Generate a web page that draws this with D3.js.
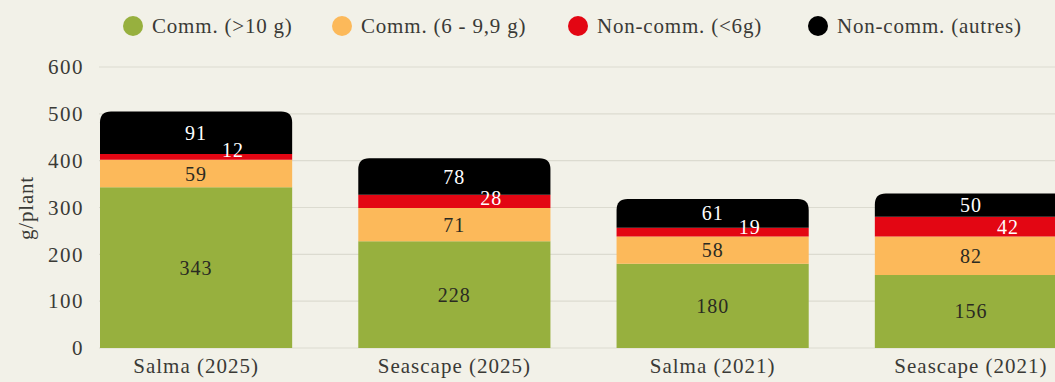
<!DOCTYPE html>
<html>
<head>
<meta charset="utf-8">
<script src="https://cdn.jsdelivr.net/npm/d3@7"></script>
<style>
  html, body { margin: 0; padding: 0; background: #f2f1e8; overflow: hidden; }
  svg { display: block; }
  text { font-family: "Liberation Serif", "DejaVu Serif", serif; }
</style>
</head>
<body>
<svg id="chart" width="1055" height="382"></svg>
<script>
// Yield per plant by size class
const categories = ["Salma (2025)", "Seascape (2025)", "Salma (2021)", "Seascape (2021)"];
const seriesNames = ["Comm. (>10 g)", "Comm. (6 - 9,9 g)", "Non-comm. (<6g)", "Non-comm. (autres)"];
const commLarge = [343, 228, 180, 156];
const commMedium = [59, 71, 58, 82];
const nonCommSmall = [12, 28, 19, 42];
const nonCommOther = [91, 78, 61, 50];
const yTicks = [0, 100, 200, 300, 400, 500, 600];
const colors = ["#97b03e", "#fcb95a", "#e30613", "#000000"];
const labelColors = ["#2a2a22", "#2a2a22", "#ffffff", "#ffffff"];

const seriesValues = [commLarge, commMedium, nonCommSmall, nonCommOther];
const rows = categories.map((c, i) => {
  const r = { cat: c };
  seriesNames.forEach((s, k) => r[s] = seriesValues[k][i]);
  return r;
});

const svg = d3.select("#chart");
const W = 1055, H = 382;
const plot = { left: 99, top: 67, bottom: 348 };
const textColor = "#3a3a36";

const y = d3.scaleLinear().domain([0, 600]).range([plot.bottom, plot.top]);
const x = d3.scaleBand().domain(categories).range([100, 1067]).paddingInner(0.256).paddingOuter(0);

// grid lines
svg.append("g")
  .selectAll("line")
  .data(yTicks)
  .join("line")
  .attr("x1", plot.left).attr("x2", W)
  .attr("y1", d => y(d)).attr("y2", d => y(d))
  .attr("stroke", "#dcdbd0").attr("stroke-width", 1.2);

// y axis tick labels
const yAxis = d3.axisLeft(y).tickValues(yTicks).tickSize(0).tickPadding(0);
const gy = svg.append("g").attr("transform", "translate(84,0)").call(yAxis);
gy.select(".domain").remove();
gy.selectAll("text")
  .attr("font-size", 21).attr("fill", textColor)
  .attr("letter-spacing", 1.5)
  .attr("font-family", "Liberation Serif, serif");

// y axis title
svg.append("text")
  .attr("transform", `translate(33,208) rotate(-90)`)
  .attr("text-anchor", "middle")
  .attr("font-size", 21).attr("fill", textColor)
  .attr("letter-spacing", 0.8)
  .text("g/plant");

// x axis labels
const xAxis = d3.axisBottom(x).tickSize(0).tickPadding(0);
const gx = svg.append("g").attr("transform", `translate(0,${plot.bottom + 10})`).call(xAxis);
gx.select(".domain").remove();
gx.selectAll("text")
  .attr("font-size", 21).attr("fill", textColor)
  .attr("letter-spacing", 1)
  .attr("font-family", "Liberation Serif, serif");

// stacked bars
const stack = d3.stack().keys(seriesNames);
const stacked = stack(rows);
const r = 11;
const bw = x.bandwidth();

stacked.forEach((layer, k) => {
  const isTop = k === stacked.length - 1;
  svg.append("g")
    .selectAll("path")
    .data(layer)
    .join("path")
    .attr("fill", colors[k])
    .attr("d", d => {
      const x0 = x(d.data.cat), x1 = x0 + bw;
      const y0 = y(d[0]), y1 = y(d[1]);
      if (!isTop) return `M${x0},${y0}V${y1}H${x1}V${y0}Z`;
      return `M${x0},${y0}V${y1 + r}Q${x0},${y1} ${x0 + r},${y1}H${x1 - r}Q${x1},${y1} ${x1},${y1 + r}V${y0}Z`;
    });
});

// value labels
stacked.forEach((layer, k) => {
  svg.append("g")
    .selectAll("text")
    .data(layer)
    .join("text")
    .attr("x", d => x(d.data.cat) + bw / 2 + (k === 2 ? 37 : 0))
    .attr("y", d => {
      const mid = (y(d[0]) + y(d[1])) / 2;
      return k === 2 ? Math.min(mid, y(d[0]) - 10) : mid;
    })
    .attr("dy", "0.35em")
    .attr("text-anchor", "middle")
    .attr("font-size", 20)
    .attr("letter-spacing", 1)
    .attr("fill", labelColors[k])
    .text(d => d[1] - d[0]);
});

// legend
const legendX = [133, 342, 578, 818];
const lg = svg.append("g");
seriesNames.forEach((s, k) => {
  lg.append("circle").attr("cx", legendX[k]).attr("cy", 26).attr("r", 10).attr("fill", colors[k]);
  lg.append("text")
    .attr("x", legendX[k] + 19).attr("y", 26).attr("dy", "0.35em")
    .attr("font-size", 21).attr("fill", textColor)
    .attr("letter-spacing", 0.8)
    .text(s);
});
</script>
</body>
</html>
